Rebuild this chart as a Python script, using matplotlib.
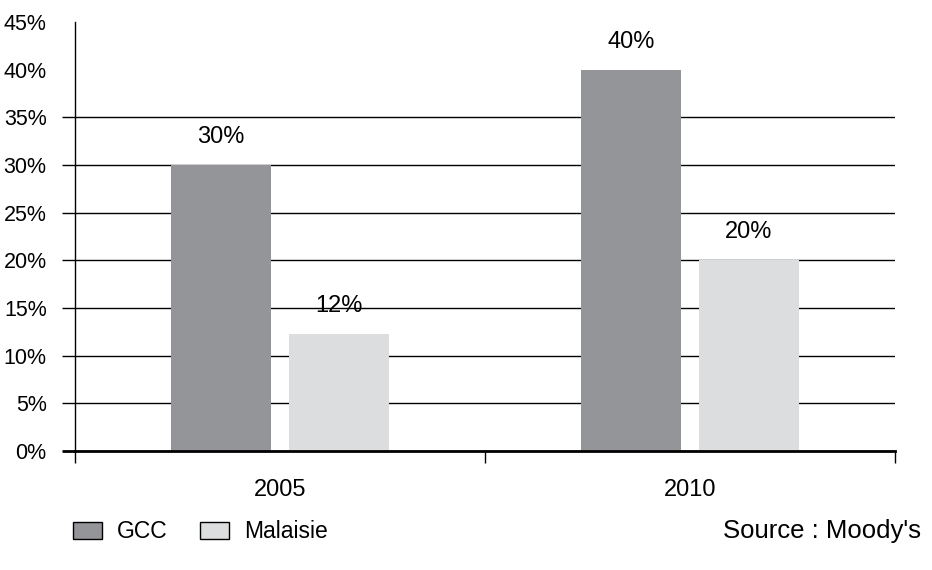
import matplotlib
matplotlib.use("Agg")
import matplotlib.pyplot as plt
import numpy as np

plt.rcParams['font.family'] = ['Liberation Sans', 'DejaVu Sans']

years = ["2005", "2010"]
gcc = [30, 40]
malaisie = [12.3, 20]
series_names = ["GCC", "Malaisie"]
colors = ["#939598", "#dcddde"]
y_ticks = [0, 5, 10, 15, 20, 25, 30, 35, 40, 45]

fig = plt.figure(figsize=(9.32, 5.70), dpi=100)
ax = fig.add_axes([75 / 932, 119 / 570, 820 / 932, 429 / 570])

x = np.arange(len(years))
w = 0.246
off = 0.144
b1 = ax.bar(x - off, gcc, w, color=colors[0], label=series_names[0], zorder=3)
b2 = ax.bar(x + off, malaisie, w, color=colors[1], label=series_names[1], zorder=3)

for bars, vals in ((b1, gcc), (b2, malaisie)):
    for r, v in zip(bars, vals):
        ax.annotate("{:.0f}%".format(v), (r.get_x() + r.get_width() / 2, v),
                    xytext=(0, 15.8), textcoords="offset points",
                    ha="center", va="baseline", fontsize=17, zorder=4)

ax.set_xlim(-0.5, len(years) - 0.5)
ax.set_ylim(0, 45)
ax.set_yticks(y_ticks)
ax.set_yticklabels(["{}%".format(t) for t in y_ticks], fontsize=15.5)
ax.tick_params(axis="y", length=9.4, width=1, pad=11, color="black")
ax.grid(axis="y", color="black", linewidth=1, zorder=1)
ax.set_axisbelow(True)

# no gridline or tick at 40% and 45%
yt = ax.yaxis.get_major_ticks()
for t in yt[-2:]:
    t.tick1line.set_visible(False)
    t.gridline.set_visible(False)
yt[0].tick1line.set_markeredgewidth(2)

ax.set_xticks(x)
ax.set_xticklabels(years, fontsize=17)
ax.tick_params(axis="x", which="major", length=0, pad=20)
ax.set_xticks(np.arange(len(years) + 1) - 0.5, minor=True)
ax.tick_params(axis="x", which="minor", length=8.6, width=1, color="black")

for s in ("top", "right"):
    ax.spines[s].set_visible(False)
ax.spines["left"].set_linewidth(1)
ax.spines["bottom"].set_linewidth(2)
ax.spines["bottom"].set_zorder(5)

fig.legend(handles=[b1, b2], loc="center left", bbox_to_anchor=(73 / 932, 1 - 532 / 570),
           ncol=2, frameon=False, fontsize=16.5, handlelength=1.25, handleheight=0.72,
           handletextpad=0.68, columnspacing=1.4, borderpad=0, borderaxespad=0)
for p in fig.legends[0].get_patches():
    p.set_edgecolor("black")
    p.set_linewidth(1)

fig.text(921 / 932, 1 - 531 / 570, "Source : Moody's", ha="right", va="center", fontsize=18.5)

fig.savefig("out.png", dpi=100)
